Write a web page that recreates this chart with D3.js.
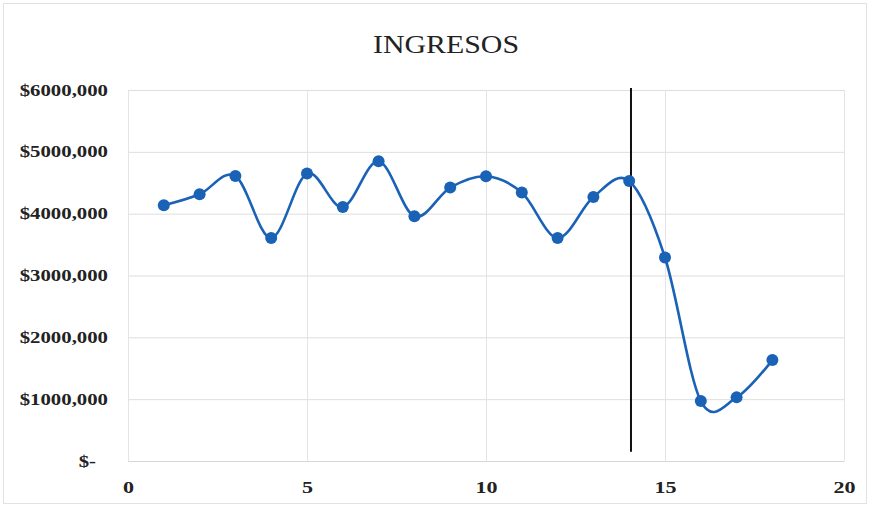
<!DOCTYPE html>
<html lang="es">
<head>
<meta charset="UTF-8">
<title>INGRESOS</title>
<script src="https://cdn.jsdelivr.net/npm/d3@7"></script>
<style>
    body { margin: 0; background: #fff; }
    text { font-family: "Liberation Serif", "DejaVu Serif", serif; }
</style>
</head>
<body>
<div id="chart"></div>
<script>
    // periodos e ingresos
    const periodos = [1, 2, 3, 4, 5, 6, 7, 8, 9, 10, 11, 12, 13, 14, 15, 16, 17, 18];
    const ingresos = [4136, 4313, 4609, 3607, 4648, 4108, 4847, 3958, 4422, 4604,
                      4341, 3607, 4270, 4528, 3291, 969, 1029, 1632];
    const xTicks = [0, 5, 10, 15, 20];
    const yTicks = [0, 1000, 2000, 3000, 4000, 5000, 6000];
    const corte = { x: 14.05, y0: 6000, y1: 150 };

    const W = 870, H = 507;
    const margin = { top: 90, right: 26, bottom: 46, left: 128 };
    const width = W - margin.left - margin.right,
          height = H - margin.top - margin.bottom;
    const k = 1.3; // el texto del original sale ensanchado

    const svg = d3.select("#chart").append("svg")
        .attr("width", W).attr("height", H);

    svg.append("rect")
        .attr("x", 3.5).attr("y", 3.5)
        .attr("width", W - 7).attr("height", H - 7)
        .attr("fill", "#fff").attr("stroke", "#e2e2e2");

    svg.append("text")
        .attr("x", 446).attr("y", 53)
        .attr("text-anchor", "middle")
        .attr("font-size", 25)
        .attr("fill", "#222")
        .attr("textLength", 146)
        .attr("lengthAdjust", "spacingAndGlyphs")
        .text("INGRESOS");

    const g = svg.append("g")
        .attr("transform", `translate(${margin.left},${margin.top})`);

    const x = d3.scaleLinear().domain([0, 20]).range([0, width]);
    const y = d3.scaleLinear().domain([0, 6000]).range([height, 0]);

    // rejilla horizontal
    g.append("g")
        .call(d3.axisLeft(y).tickValues(yTicks).tickSize(-width).tickFormat(""))
        .call(a => a.select(".domain").remove())
        .call(a => a.selectAll("line").attr("stroke", "#dedede"));

    // rejilla vertical
    g.append("g")
        .attr("transform", `translate(0,${height})`)
        .call(d3.axisBottom(x).tickValues(xTicks).tickSize(-height).tickFormat(""))
        .call(a => a.select(".domain").remove())
        .call(a => a.selectAll("line").attr("stroke", "#e4e4e4"));

    // etiquetas eje y
    g.append("g")
        .call(d3.axisLeft(y).tickValues(yTicks).tickSize(0)
            .tickFormat(d => d === 0 ? "$-" : "$" + d + ",000"))
        .call(a => a.select(".domain").remove())
        .call(a => a.selectAll("text")
            .attr("x", d => (d === 0 ? -32 : -20) / k)
            .attr("transform", `scale(${k},1)`)
            .attr("font-size", 16).attr("font-weight", "bold")
            .attr("fill", "#222")
            .style("font-family", "Liberation Serif, serif"));

    // etiquetas eje x
    g.append("g")
        .attr("transform", `translate(0,${height})`)
        .call(d3.axisBottom(x).tickValues(xTicks).tickSize(0).tickPadding(20))
        .call(a => a.select(".domain").attr("stroke", "#d6d6d6"))
        .call(a => a.selectAll("text")
            .attr("transform", `scale(${k},1)`)
            .attr("font-size", 17).attr("font-weight", "bold")
            .attr("fill", "#222")
            .style("font-family", "Liberation Serif, serif"));

    const datos = periodos.map((p, i) => ({ p, v: ingresos[i] }));

    const linea = d3.line()
        .x(d => x(d.p)).y(d => y(d.v))
        .curve(d3.curveCardinal.tension(0));

    g.append("path")
        .datum(datos)
        .attr("fill", "none")
        .attr("stroke", "#1a62b6")
        .attr("stroke-width", 2.6)
        .attr("d", linea);

    g.append("line")
        .attr("x1", x(corte.x)).attr("x2", x(corte.x))
        .attr("y1", y(corte.y0) - 2).attr("y2", y(corte.y1))
        .attr("stroke", "#111").attr("stroke-width", 2);

    g.append("g")
        .selectAll("circle")
        .data(datos)
        .enter()
        .append("circle")
        .attr("cx", d => x(d.p))
        .attr("cy", d => y(d.v))
        .attr("r", 6)
        .attr("fill", "#1a62b6");
</script>
</body>
</html>
